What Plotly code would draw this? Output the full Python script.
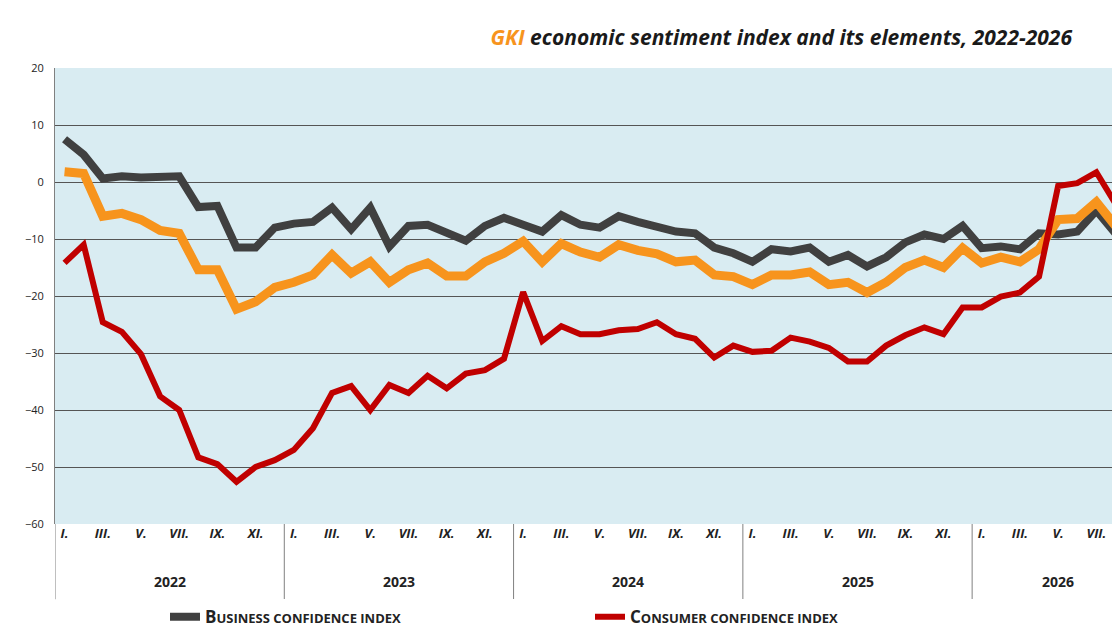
import plotly.graph_objects as go

years = ["2022", "2023", "2024", "2025", "2026"]
month_labels = ["I.", "III.", "V.", "VII.", "IX.", "XI."]

business = [7.5, 4.8, 0.6, 1.0, 0.8, 0.8, 1.0, -4.4, -4.2, -11.5, -11.5, -8.0,
            -7.3, -7.0, -4.5, -8.3, -4.5, -11.3, -7.7, -7.5, -9.0, -10.3, -7.7, -6.3,
            -7.5, -8.7, -5.8, -7.5, -8.0, -6.0, -7.0, -8.0, -8.7, -9.0, -11.5, -12.5,
            -14.0, -11.8, -12.2, -11.5, -14.0, -12.8, -14.8, -13.2, -10.6, -9.2, -10.0, -7.7,
            -11.6, -11.3, -11.8, -9.0, -9.2, -8.7, -5.0, -9.0]
gki = [1.8, 1.5, -6.0, -5.5, -6.6, -8.5, -9.0, -15.4, -15.4, -22.3, -21.0, -18.5,
       -17.6, -16.3, -12.8, -16.0, -14.0, -17.6, -15.4, -14.2, -16.5, -16.5, -14.0, -12.5,
       -10.4, -14.0, -10.8, -12.3, -13.2, -11.0, -12.0, -12.6, -14.0, -13.7, -16.3, -16.6,
       -18.0, -16.3, -16.3, -15.8, -18.0, -17.6, -19.4, -17.6, -15.0, -13.7, -15.0, -11.6,
       -14.2, -13.2, -14.0, -11.8, -6.6, -6.4, -3.5, -7.7]
consumer = [-14.2, -11.0, -24.6, -26.3, -30.2, -37.6, -40.0, -48.3, -49.5, -52.6, -50.0, -48.8,
            -47.0, -43.2, -37.0, -35.8, -40.0, -35.6, -37.0, -34.0, -36.2, -33.6, -33.0, -31.0,
            -19.3, -27.9, -25.3, -26.7, -26.7, -26.0, -25.8, -24.6, -26.7, -27.5, -30.8, -28.7,
            -29.8, -29.6, -27.3, -28.0, -29.1, -31.5, -31.5, -28.7, -26.9, -25.5, -26.7, -22.0,
            -22.0, -20.1, -19.4, -16.6, -0.7, -0.2, 1.7, -3.8]

n = len(business)
x = list(range(n))
font = "Open Sans"

fig = go.Figure()
fig.add_trace(go.Scatter(x=x, y=business, mode="lines", line=dict(color="#404040", width=8),
                         name="<b>B<span style='font-size:13px'>USINESS CONFIDENCE INDEX</span></b>"))
fig.add_trace(go.Scatter(x=x, y=gki, mode="lines", line=dict(color="#f7941d", width=9),
                         showlegend=False))
fig.add_trace(go.Scatter(x=x, y=consumer, mode="lines", line=dict(color="#c00000", width=6),
                         name="<b>C<span style='font-size:13px'>ONSUMER CONFIDENCE INDEX</span></b>"))

tickvals, ticktext = [], []
for yi in range(len(years)):
    for mi, lab in enumerate(month_labels):
        v = yi * 12 + mi * 2
        if v < n:
            tickvals.append(v)
            ticktext.append("<b><i>" + lab + "</i></b>")

shapes = []
annotations = []
for yi, yr in enumerate(years):
    start = yi * 12 - 0.5
    end = min(yi * 12 + 11.5, 56.5)
    shapes.append(dict(type="line", xref="x", yref="paper", x0=start, x1=start, y0=0, y1=-0.165,
                       line=dict(color="#808080", width=1)))
    annotations.append(dict(x=(start + end) / 2, y=-0.125, xref="x", yref="paper", text="<b>" + yr + "</b>",
                            showarrow=False, font=dict(family=font, size=14, color="#222"),
                            yanchor="middle"))

fig.update_layout(
    width=1120, height=630,
    margin=dict(l=47, r=3, t=60, b=107),
    paper_bgcolor="white", plot_bgcolor="#d9ecf2",
    title=dict(text="<b><i><span style='color:#f7941d'>GKI</span> economic sentiment index and its elements, 2022-2026</i></b>",
               x=0.95, xanchor="right", y=0.965, font=dict(family=font, size=21, color="#1a1a1a")),
    xaxis=dict(range=[-0.5, 55.5], tickvals=tickvals, ticktext=ticktext, showgrid=False,
               ticks="", tickfont=dict(family=font, size=13, color="#222"), zeroline=False,
               automargin=False),
    yaxis=dict(range=[-60, 20], dtick=10, showgrid=True, gridcolor="#555", gridwidth=1,
               zeroline=False, tickfont=dict(family=font, size=11, color="#222"), ticks="",
               showline=True, linecolor="#808080", automargin=False,
               tickformat="d", ticklabelstandoff=8),
    legend=dict(orientation="h", x=0.5, xanchor="center", y=-0.165, yanchor="top",
                font=dict(family=font, size=17, color="#222"), entrywidth=380),
    shapes=shapes, annotations=annotations,
)
fig.write_html("out.html")
